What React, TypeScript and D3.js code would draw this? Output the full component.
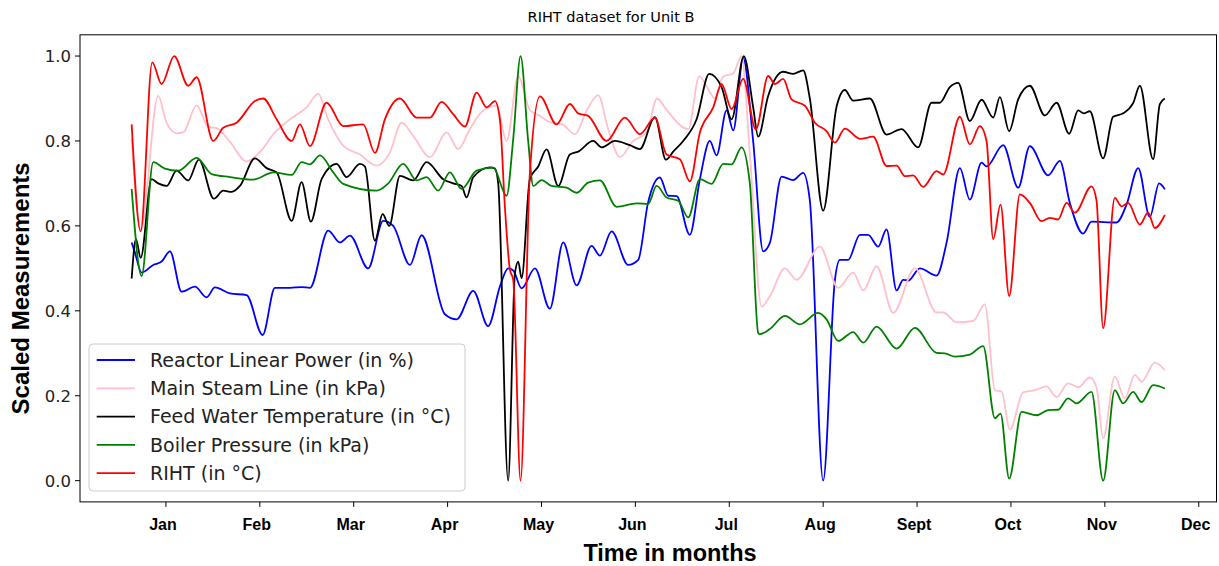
import React from "react";
import * as d3 from "d3";

// x values are fractional month indices (0 = Jan, 11 = Dec); y values are scaled 0..1
const monthLabels = ["Jan", "Feb", "Mar", "Apr", "May", "Jun", "Jul", "Aug", "Sept", "Oct", "Nov", "Dec"];
const yTicks = [0, 0.2, 0.4, 0.6, 0.8, 1.0];

const reactorPower: [number, number][] = [
  [-0.365, 0.561], [-0.33, 0.537], [-0.259, 0.49], [-0.135, 0.508], [-0.046, 0.516], [0.043, 0.54],
  [0.167, 0.445], [0.309, 0.457], [0.433, 0.432], [0.522, 0.455], [0.682, 0.441], [0.859, 0.437],
  [1.03, 0.343], [1.161, 0.454], [1.321, 0.454], [1.445, 0.456], [1.534, 0.454], [1.728, 0.589],
  [1.853, 0.561], [1.96, 0.577], [2.154, 0.5], [2.314, 0.612], [2.421, 0.6], [2.599, 0.508],
  [2.723, 0.578], [2.971, 0.392], [3.096, 0.38], [3.273, 0.447], [3.432, 0.364], [3.557, 0.457],
  [3.645, 0.5], [3.699, 0.495], [3.788, 0.453], [3.93, 0.5], [4.089, 0.405], [4.231, 0.561],
  [4.374, 0.46], [4.533, 0.553], [4.622, 0.53], [4.747, 0.587], [4.923, 0.508], [5.03, 0.52],
  [5.136, 0.656], [5.261, 0.714], [5.349, 0.671], [5.439, 0.67], [5.58, 0.579], [5.687, 0.71],
  [5.793, 0.8], [5.865, 0.766], [5.971, 0.872], [6.042, 0.825], [6.148, 0.995], [6.254, 0.8],
  [6.361, 0.54], [6.432, 0.56], [6.557, 0.716], [6.681, 0.708], [6.787, 0.725], [6.858, 0.66],
  [7.0, 0.0], [7.125, 0.473], [7.178, 0.52], [7.266, 0.52], [7.391, 0.579], [7.479, 0.579],
  [7.586, 0.551], [7.675, 0.592], [7.782, 0.448], [7.852, 0.473], [7.905, 0.471], [8.03, 0.5],
  [8.208, 0.483], [8.314, 0.56], [8.456, 0.736], [8.562, 0.662], [8.687, 0.749], [8.74, 0.74],
  [8.917, 0.79], [9.077, 0.69], [9.201, 0.788], [9.396, 0.719], [9.521, 0.753], [9.627, 0.654],
  [9.769, 0.582], [9.858, 0.61], [10.124, 0.608], [10.231, 0.65], [10.355, 0.736], [10.479, 0.621],
  [10.578, 0.7], [10.639, 0.686],
];

const mainSteam: [number, number][] = [
  [-0.365, 0.805], [-0.269, 0.59], [-0.082, 0.906], [0.007, 0.843], [0.114, 0.818], [0.184, 0.82],
  [0.327, 0.884], [0.45, 0.833], [0.54, 0.83], [0.682, 0.798], [0.859, 0.752], [1.001, 0.774],
  [1.161, 0.82], [1.321, 0.851], [1.498, 0.879], [1.622, 0.911], [1.728, 0.851], [1.888, 0.789],
  [2.066, 0.768], [2.244, 0.742], [2.386, 0.773], [2.51, 0.843], [2.634, 0.812], [2.812, 0.762],
  [2.989, 0.82], [3.113, 0.781], [3.238, 0.828], [3.379, 0.872], [3.522, 0.883], [3.628, 0.8],
  [3.752, 0.952], [3.876, 0.873], [3.983, 0.859], [4.107, 0.843], [4.214, 0.84], [4.356, 0.816],
  [4.48, 0.871], [4.604, 0.908], [4.71, 0.828], [4.835, 0.762], [4.977, 0.8], [5.119, 0.82],
  [5.232, 0.9], [5.332, 0.873], [5.563, 0.828], [5.68, 0.952], [5.775, 0.922], [5.847, 0.9],
  [5.935, 0.952], [6.042, 0.959], [6.131, 1.0], [6.219, 0.77], [6.344, 0.41], [6.432, 0.434],
  [6.592, 0.5], [6.717, 0.473], [6.965, 0.551], [7.16, 0.454], [7.319, 0.49], [7.426, 0.448],
  [7.569, 0.505], [7.746, 0.395], [7.977, 0.5], [8.208, 0.396], [8.278, 0.396], [8.421, 0.373],
  [8.597, 0.376], [8.722, 0.415], [8.829, 0.213], [8.9, 0.21], [8.988, 0.12], [9.13, 0.208],
  [9.254, 0.213], [9.379, 0.222], [9.486, 0.197], [9.609, 0.229], [9.716, 0.22], [9.84, 0.243],
  [9.911, 0.22], [9.982, 0.1], [10.106, 0.245], [10.213, 0.194], [10.32, 0.249], [10.391, 0.233],
  [10.532, 0.278], [10.639, 0.26],
];

const feedWater: [number, number][] = [
  [-0.365, 0.476], [-0.319, 0.569], [-0.269, 0.525], [-0.152, 0.71], [-0.082, 0.7], [0.007, 0.694],
  [0.114, 0.73], [0.237, 0.707], [0.351, 0.756], [0.511, 0.664], [0.61, 0.683], [0.7, 0.68],
  [0.788, 0.694], [0.948, 0.759], [1.072, 0.736], [1.179, 0.726], [1.339, 0.612], [1.445, 0.703],
  [1.544, 0.61], [1.658, 0.71], [1.818, 0.746], [1.924, 0.715], [2.066, 0.746], [2.119, 0.74],
  [2.226, 0.565], [2.308, 0.628], [2.378, 0.6], [2.492, 0.718], [2.634, 0.707], [2.776, 0.75],
  [2.953, 0.71], [3.06, 0.7], [3.149, 0.694], [3.202, 0.667], [3.273, 0.715], [3.45, 0.738],
  [3.504, 0.735], [3.539, 0.7], [3.645, 0.0], [3.717, 0.488], [3.752, 0.516], [3.788, 0.477],
  [3.876, 0.71], [3.965, 0.74], [4.054, 0.78], [4.178, 0.694], [4.302, 0.768], [4.391, 0.775],
  [4.551, 0.8], [4.64, 0.785], [4.782, 0.8], [4.941, 0.79], [5.048, 0.781], [5.208, 0.856],
  [5.325, 0.756], [5.403, 0.775], [5.509, 0.8], [5.652, 0.851], [5.786, 0.958], [5.918, 0.927],
  [6.025, 0.851], [6.155, 1.0], [6.254, 0.88], [6.308, 0.81], [6.414, 0.906], [6.574, 0.963],
  [6.681, 0.958], [6.787, 0.966], [6.858, 0.9], [7.0, 0.636], [7.143, 0.881], [7.231, 0.92],
  [7.319, 0.895], [7.497, 0.9], [7.675, 0.815], [7.835, 0.828], [8.012, 0.785], [8.154, 0.89],
  [8.243, 0.89], [8.349, 0.927], [8.438, 0.937], [8.562, 0.847], [8.687, 0.897], [8.811, 0.855],
  [8.882, 0.903], [8.981, 0.823], [9.077, 0.898], [9.201, 0.93], [9.361, 0.86], [9.486, 0.89],
  [9.62, 0.817], [9.716, 0.872], [9.776, 0.865], [9.84, 0.87], [9.982, 0.759], [10.088, 0.857],
  [10.195, 0.865], [10.301, 0.889], [10.373, 0.93], [10.514, 0.757], [10.586, 0.887], [10.639, 0.9],
];

const boilerPressure: [number, number][] = [
  [-0.365, 0.687], [-0.259, 0.482], [-0.135, 0.75], [-0.011, 0.735], [0.131, 0.73], [0.327, 0.76],
  [0.487, 0.722], [0.682, 0.715], [0.93, 0.709], [1.143, 0.726], [1.339, 0.72], [1.445, 0.75],
  [1.534, 0.745], [1.64, 0.766], [1.782, 0.726], [1.888, 0.699], [2.244, 0.683], [2.367, 0.7],
  [2.527, 0.746], [2.67, 0.707], [2.776, 0.715], [2.9, 0.683], [3.024, 0.726], [3.149, 0.687],
  [3.309, 0.73], [3.486, 0.737], [3.628, 0.671], [3.699, 0.805], [3.777, 1.0], [3.858, 0.8],
  [3.912, 0.694], [4.001, 0.708], [4.107, 0.694], [4.267, 0.69], [4.374, 0.678], [4.497, 0.702],
  [4.622, 0.707], [4.8, 0.645], [5.013, 0.653], [5.136, 0.652], [5.226, 0.694], [5.332, 0.667],
  [5.456, 0.659], [5.563, 0.62], [5.687, 0.71], [5.811, 0.699], [5.935, 0.746], [6.025, 0.745],
  [6.131, 0.785], [6.219, 0.7], [6.308, 0.348], [6.326, 0.345], [6.432, 0.357], [6.592, 0.388],
  [6.752, 0.368], [6.947, 0.395], [7.036, 0.38], [7.16, 0.329], [7.319, 0.35], [7.426, 0.325],
  [7.569, 0.363], [7.782, 0.311], [7.977, 0.36], [8.208, 0.301], [8.296, 0.3], [8.403, 0.292],
  [8.562, 0.297], [8.704, 0.317], [8.829, 0.147], [8.889, 0.158], [8.981, 0.005], [9.113, 0.162],
  [9.273, 0.154], [9.396, 0.166], [9.502, 0.167], [9.609, 0.194], [9.699, 0.182], [9.858, 0.209],
  [9.982, 0.0], [10.106, 0.213], [10.195, 0.182], [10.301, 0.209], [10.391, 0.185], [10.514, 0.225],
  [10.639, 0.217],
];

const riht: [number, number][] = [
  [-0.365, 0.839], [-0.269, 0.587], [-0.146, 0.985], [-0.046, 0.934], [0.088, 1.0], [0.237, 0.93],
  [0.327, 0.95], [0.504, 0.8], [0.61, 0.831], [0.753, 0.843], [0.948, 0.894], [1.036, 0.9],
  [1.179, 0.851], [1.339, 0.8], [1.427, 0.839], [1.534, 0.788], [1.711, 0.89], [1.888, 0.835],
  [2.101, 0.839], [2.226, 0.772], [2.332, 0.851], [2.492, 0.9], [2.67, 0.855], [2.812, 0.855],
  [2.936, 0.892], [3.06, 0.863], [3.184, 0.834], [3.309, 0.914], [3.415, 0.879], [3.504, 0.894],
  [3.557, 0.851], [3.61, 0.645], [3.663, 0.498], [3.699, 0.473], [3.777, 0.0], [3.876, 0.724],
  [3.983, 0.905], [4.161, 0.839], [4.302, 0.887], [4.391, 0.865], [4.497, 0.859], [4.693, 0.8],
  [4.888, 0.855], [5.048, 0.816], [5.208, 0.855], [5.332, 0.768], [5.474, 0.757], [5.58, 0.705],
  [5.687, 0.82], [5.829, 0.879], [5.918, 0.934], [6.025, 0.875], [6.148, 0.946], [6.283, 0.827],
  [6.414, 0.953], [6.486, 0.934], [6.574, 0.946], [6.663, 0.898], [6.805, 0.883], [6.912, 0.843],
  [7.036, 0.823], [7.125, 0.796], [7.231, 0.829], [7.391, 0.805], [7.533, 0.81], [7.675, 0.741],
  [7.782, 0.742], [7.87, 0.717], [7.958, 0.719], [8.065, 0.692], [8.208, 0.729], [8.278, 0.721],
  [8.456, 0.857], [8.562, 0.792], [8.669, 0.835], [8.74, 0.8], [8.811, 0.569], [8.889, 0.65],
  [8.981, 0.435], [9.095, 0.674], [9.201, 0.654], [9.326, 0.611], [9.414, 0.619], [9.502, 0.615],
  [9.592, 0.654], [9.681, 0.631], [9.858, 0.693], [9.911, 0.66], [9.982, 0.359], [10.106, 0.666],
  [10.178, 0.646], [10.248, 0.654], [10.373, 0.603], [10.461, 0.631], [10.532, 0.595], [10.639, 0.626],
];

const seriesNames = [
  "Reactor Linear Power (in %)",
  "Main Steam Line (in kPa)",
  "Feed Water Temperature (in °C)",
  "Boiler Pressure (in kPa)",
  "RIHT (in °C)",
];
const seriesColors = ["#0000ff", "#ffc0cb", "#000000", "#008000", "#ff0000"];
const seriesData = [reactorPower, mainSteam, feedWater, boilerPressure, riht];

const W = 1219;
const H = 566;
const plotLeft = 80;
const plotRight = 1216.5;
const plotTop = 34.8;
const plotBottom = 501.9;

export default function App() {
  const allX = seriesData.flat().map((d) => d[0]);
  const xMin = d3.min(allX) as number;
  const xMax = d3.max(allX) as number;
  const pad = (xMax - xMin) * 0.05;
  const x = d3.scaleLinear().domain([xMin - pad, xMax + pad]).range([plotLeft, plotRight]);
  const y = d3.scaleLinear().domain([-0.05, 1.05]).range([plotBottom, plotTop]);

  const line = d3
    .line<[number, number]>()
    .x((d) => x(d[0]))
    .y((d) => y(d[1]))
    .curve(d3.curveMonotoneX);

  const legendX = 89;
  const legendY = 344;
  const rowH = 28.3;

  return (
    <svg width={W} height={H} style={{ position: "absolute", left: 0, top: 0, background: "#fff" }}>
      <rect x={0} y={0} width={W} height={H} fill="#fff" />
      <text x={611} y={22} textAnchor="middle" fontFamily="DejaVu Sans" fontSize={14.5} fill="#000">
        RIHT dataset for Unit B
      </text>
      <defs>
        <clipPath id="plotclip">
          <rect x={plotLeft} y={plotTop} width={plotRight - plotLeft} height={plotBottom - plotTop} />
        </clipPath>
      </defs>
      <g clipPath="url(#plotclip)">
        {seriesData.map((s, i) => (
          <path key={i} d={line(s) || ""} fill="none" stroke={seriesColors[i]} strokeWidth={1.8} strokeLinejoin="round" />
        ))}
      </g>
      <rect x={plotLeft} y={plotTop} width={plotRight - plotLeft} height={plotBottom - plotTop} fill="none" stroke="#000" strokeWidth={1} />
      {yTicks.map((t) => (
        <g key={t}>
          <line x1={plotLeft - 5} x2={plotLeft} y1={y(t)} y2={y(t)} stroke="#000" strokeWidth={1} />
          <text x={plotLeft - 9} y={y(t)} dy="0.36em" textAnchor="end" fontFamily="DejaVu Sans" fontSize={16.5} fill="#222">
            {t.toFixed(1)}
          </text>
        </g>
      ))}
      {monthLabels.map((m, i) => (
        <g key={m}>
          <line x1={x(i)} x2={x(i)} y1={plotBottom} y2={plotBottom + 5} stroke="#000" strokeWidth={1} />
          <text x={x(i) - 3} y={530} textAnchor="middle" fontFamily="Liberation Sans, Arial" fontWeight="bold" fontSize={16} fill="#000">
            {m}
          </text>
        </g>
      ))}
      <text x={670} y={561} textAnchor="middle" fontFamily="Liberation Sans, Arial" fontWeight="bold" fontSize={23.5} fill="#000">
        Time in months
      </text>
      <text
        transform={`translate(29,${(plotTop + plotBottom) / 2 + 20}) rotate(-90)`}
        textAnchor="middle"
        fontFamily="Liberation Sans, Arial"
        fontWeight="bold"
        fontSize={24}
        fill="#000"
      >
        Scaled Measurements
      </text>
      <rect x={legendX} y={legendY} width={376} height={147} rx={4} ry={4} fill="#fff" fillOpacity={0.8} stroke="#ccc" strokeWidth={1} />
      {seriesNames.map((n, i) => {
        const cy = legendY + 16 + i * rowH;
        return (
          <g key={n}>
            <line x1={96.7} x2={135} y1={cy} y2={cy} stroke={seriesColors[i]} strokeWidth={1.8} />
            <text x={150} y={cy} dy="0.36em" fontFamily="DejaVu Sans" fontSize={19} fill="#222">
              {n}
            </text>
          </g>
        );
      })}
    </svg>
  );
}
